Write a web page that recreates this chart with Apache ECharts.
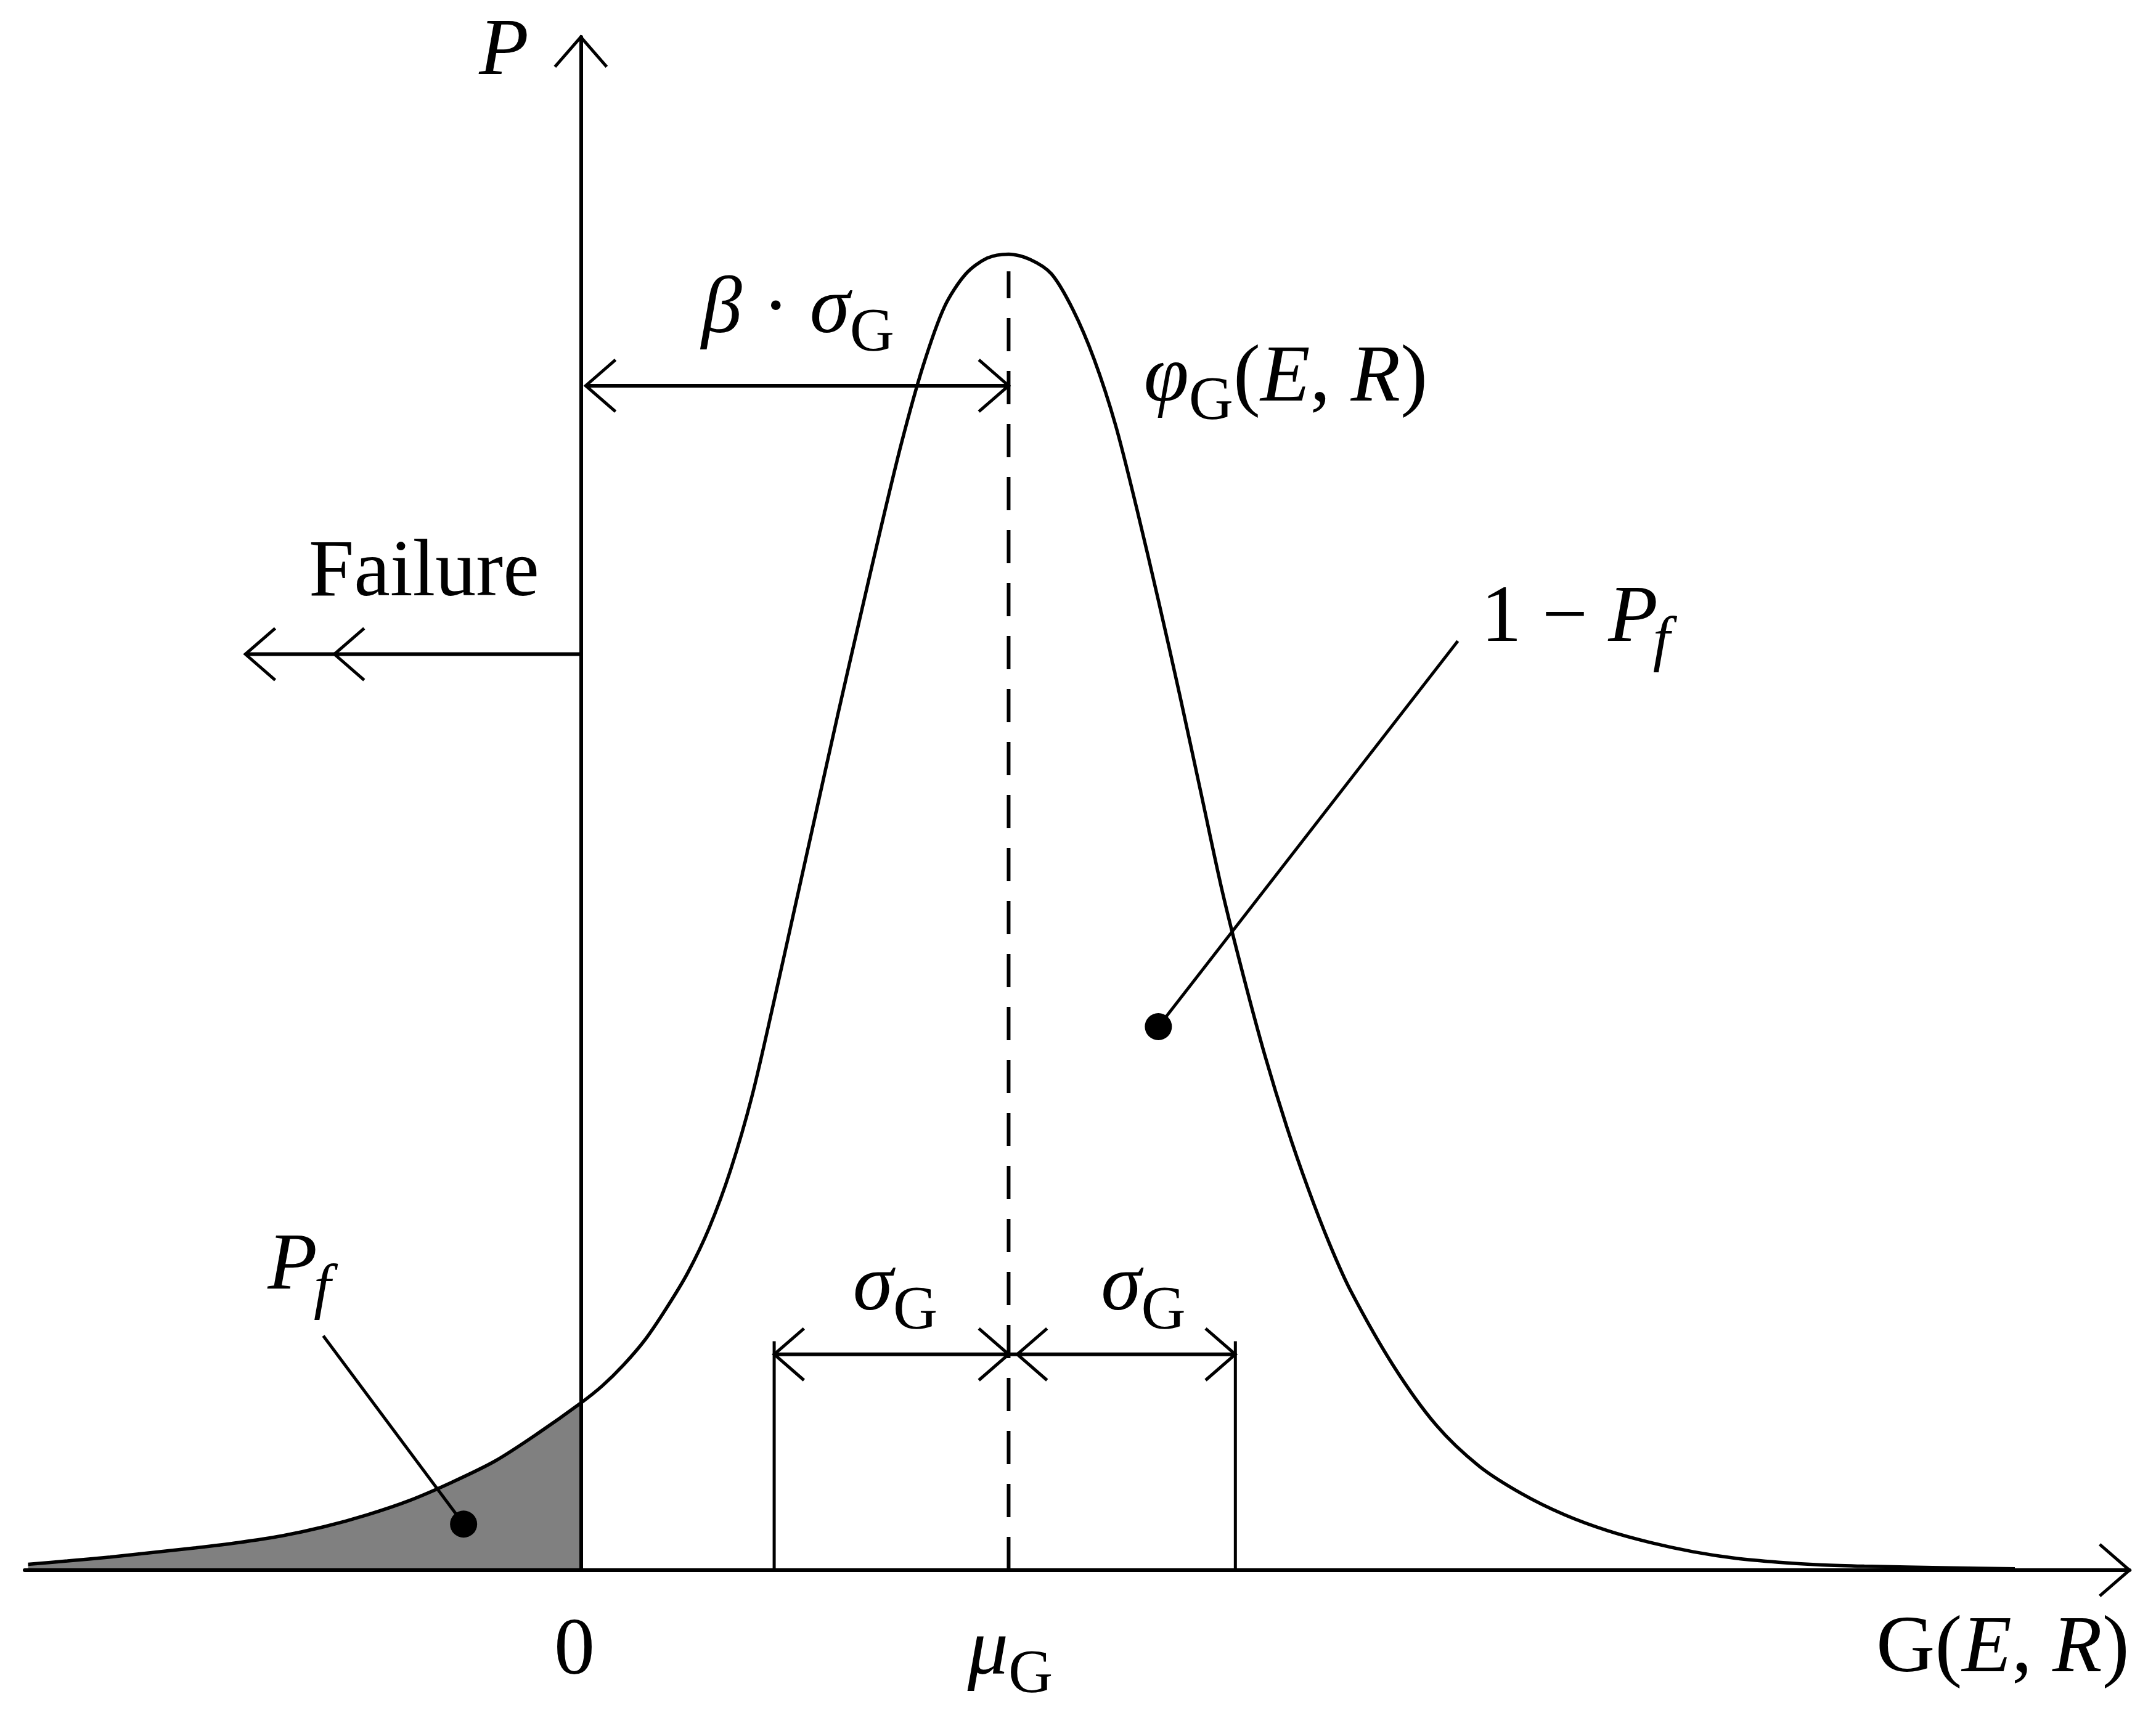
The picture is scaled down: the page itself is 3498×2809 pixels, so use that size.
<!DOCTYPE html>
<html><head><meta charset="utf-8">
<script src="https://cdn.jsdelivr.net/npm/echarts@6/dist/echarts.min.js"></script>
<style>html,body{margin:0;padding:0;background:#fff}#c{width:3498px;height:2809px}</style>
</head><body><div id="c"></div>
<script>
// ---- data (x: G(E,R) units, 0 = limit state; y: density, peak = 1) ----
const gX = [-6.46,-6.0,-5.5,-5.0,-4.5,-4.0,-3.5,-3.0,-2.5,-2.0,-1.5,-1.0,-0.5,0,
  0.25,0.5,0.75,1.0,1.25,1.5,1.75,2.0,2.25,2.5,2.75,3.0,3.25,3.5,3.75,4.0,4.25,4.5,4.75,5.0,
  5.25,5.5,5.75,6.0,6.25,6.5,6.75,7.0,7.25,7.5,7.75,8.0,8.25,8.5,8.75,9.0,9.5,10.0,10.5,11.0,11.5,12.0,12.5,13.0,13.5,14.0,14.5,15.0,16.0,16.76];
const gY = [0.0045,0.007,0.010,0.0135,0.017,0.021,0.026,0.033,0.042,0.053,0.067,0.083,0.104,0.127,
  0.140,0.156,0.175,0.199,0.226,0.260,0.304,0.360,0.430,0.503,0.576,0.649,0.720,0.790,0.857,0.915,0.960,0.985,0.997,1.000,
  0.996,0.985,0.958,0.920,0.870,0.806,0.737,0.665,0.590,0.515,0.450,0.390,0.337,0.290,0.248,0.212,0.155,0.110,0.079,0.058,0.042,0.030,0.021,0.014,0.009,0.006,0.004,0.003,0.0018,0.001];
const MU = 5.0;                 // mean mu_G
const SIGMA_MARKS = [2.26, 7.65]; // mu - sigma, mu + sigma brackets
const xTickValues = [0, MU];
const xTickLabels = ['0', 'μG'];
// annotation anchors (data coordinates)
const DOTS = [[6.75, 0.413], [-1.37, 0.035]];
const LEADER_ENDS = [[10.25, 0.706], [-3.01, 0.178]];
const FAIL_TIPS = [-3.92, -2.88];

const X_MIN = -6.5, X_MAX = 18.1, Y_MAX = 1.165;

const curve = gX.map((x, i) => [x, gY[i]]);
const tail = curve.filter(p => p[0] <= 0);

const MAIN = 132, SUB = 100, DROP = 28;
const FAM = '"Liberation Serif", "DejaVu Serif", serif';
const mctx = document.createElement('canvas').getContext('2d');
function fontOf(p) { return (p.it ? 'italic ' : '') + (p.sub ? SUB : MAIN) + 'px ' + FAM; }

const LABELS = [
  {at: [-1.19, 1.134], parts: [{t: 'P', it: 1}]},
  {at: [-3.18, 0.738], parts: [{t: 'Failure'}]},
  {at: [1.41, 0.938], parts: [{t: 'β', it: 1}, {t: ' · '}, {t: 'σ', it: 1}, {t: 'G', sub: 1}]},
  {at: [6.58, 0.886], parts: [{t: 'φ', it: 1}, {t: 'G', sub: 1}, {t: '('}, {t: 'E', it: 1}, {t: ', '}, {t: 'R', it: 1}, {t: ')'}]},
  {at: [10.52, 0.703], parts: [{t: '1 − '}, {t: 'P', it: 1}, {t: 'f', it: 1, sub: 1, dx: -8}]},
  {at: [-3.66, 0.211], parts: [{t: 'P', it: 1}, {t: 'f', it: 1, sub: 1, dx: -6}]},
  {at: [3.18, 0.195], parts: [{t: 'σ', it: 1}, {t: 'G', sub: 1}]},
  {at: [6.08, 0.195], parts: [{t: 'σ', it: 1}, {t: 'G', sub: 1}]},
  {at: [-0.313, -0.0815], parts: [{t: xTickLabels[0]}]},
  {at: [4.52, -0.0815], parts: [{t: 'μ', it: 1}, {t: 'G', sub: 1}]},
  {at: [15.14, -0.0796], parts: [{t: 'G'}, {t: '('}, {t: 'E', it: 1}, {t: ', '}, {t: 'R', it: 1}, {t: ')'}]}
];

function renderAnnot(params, api) {
  const c = (x, y) => api.coord([x, y]);
  const els = [];
  const LW = 5;
  const seg = (a, b, w, dash) => els.push({type: 'line', shape: {x1: a[0], y1: a[1], x2: b[0], y2: b[1]},
    style: {stroke: '#000', lineWidth: w || LW, lineDash: dash || null, fill: 'none'}});
  const head = (tip, dir) => {
    const L = 64, a = 41 * Math.PI / 180, bx = -dir[0], by = -dir[1];
    const r = s => [bx * Math.cos(s * a) - by * Math.sin(s * a), bx * Math.sin(s * a) + by * Math.cos(s * a)];
    const r1 = r(1), r2 = r(-1);
    els.push({type: 'polyline', shape: {points: [[tip[0] + r1[0] * L, tip[1] + r1[1] * L], tip, [tip[0] + r2[0] * L, tip[1] + r2[1] * L]]},
      style: {stroke: '#000', lineWidth: LW, fill: 'none'}});
  };
  // axis arrowheads
  head(c(0, Y_MAX), [0, -1]);
  head(c(X_MAX, 0), [1, 0]);
  // dashed mean line
  seg(c(MU, 0), c(MU, 0.987), 6, [54, 32]);
  // sigma brackets
  const sv = 0.164, st = 0.174;
  seg(c(SIGMA_MARKS[0], 0), c(SIGMA_MARKS[0], st));
  seg(c(SIGMA_MARKS[1], 0), c(SIGMA_MARKS[1], st));
  seg(c(SIGMA_MARKS[0], sv), c(SIGMA_MARKS[1], sv), 6);
  head(c(SIGMA_MARKS[0], sv), [-1, 0]);
  head(c(MU, sv), [1, 0]);
  const m2 = c(MU, sv); m2[0] += 14;
  head(m2, [-1, 0]);
  head(c(SIGMA_MARKS[1], sv), [1, 0]);
  // beta * sigma arrow
  const bv = 0.900;
  const b0 = c(0, bv); b0[0] += 8;
  seg(b0, c(MU, bv), 6);
  head(b0, [-1, 0]);
  head(c(MU, bv), [1, 0]);
  // failure arrow
  const fv = 0.696;
  seg(c(0, fv), c(FAIL_TIPS[0], fv), 6);
  head(c(FAIL_TIPS[0], fv), [-1, 0]);
  head(c(FAIL_TIPS[1], fv), [-1, 0]);
  // leaders + dots
  DOTS.forEach((d, i) => {
    const p = c(d[0], d[1]);
    seg(p, c(LEADER_ENDS[i][0], LEADER_ENDS[i][1]));
    els.push({type: 'circle', shape: {cx: p[0], cy: p[1], r: 22}, style: {fill: '#000', stroke: 'none'}});
  });
  // texts
  LABELS.forEach(lb => {
    const p0 = c(lb.at[0], lb.at[1]);
    let x = p0[0];
    lb.parts.forEach(p => {
      const size = p.sub ? SUB : MAIN, font = fontOf(p);
      x += (p.dx || 0);
      const yb = p0[1] + (p.sub ? DROP : 0);
      els.push({type: 'text', x: x, y: yb - 0.31 * size,
        style: {text: p.t, font: font, fill: '#000', align: 'left', verticalAlign: 'middle'}});
      mctx.font = font;
      x += mctx.measureText(p.t).width;
    });
  });
  return {type: 'group', children: els};
}

const chart = echarts.init(document.getElementById('c'), null, {renderer: 'canvas'});
chart.setOption({
  animation: false,
  backgroundColor: '#ffffff',
  grid: {left: 40, right: 43, top: 60, bottom: 261, containLabel: false},
  xAxis: {type: 'value', min: X_MIN, max: X_MAX, z: 3,
    axisLine: {show: true, onZero: true, lineStyle: {color: '#000', width: 6}},
    axisTick: {show: false}, axisLabel: {show: false}, splitLine: {show: false}},
  yAxis: {type: 'value', min: 0, max: Y_MAX, z: 3,
    axisLine: {show: true, onZero: true, lineStyle: {color: '#000', width: 6}},
    axisTick: {show: false}, axisLabel: {show: false}, splitLine: {show: false}},
  series: [
    {type: 'line', name: 'Pf', data: tail, smooth: 0.3, symbol: 'none', z: 1,
      lineStyle: {width: 0, color: '#808080'}, areaStyle: {color: '#808080', opacity: 1}},
    {type: 'line', name: 'phi', data: curve, smooth: 0.3, symbol: 'none', z: 2,
      lineStyle: {width: 5.5, color: '#000'}},
    {type: 'custom', name: 'annotations', data: [[0, 0]], renderItem: renderAnnot, z: 4, clip: false, silent: true}
  ]
});
</script></body></html>
